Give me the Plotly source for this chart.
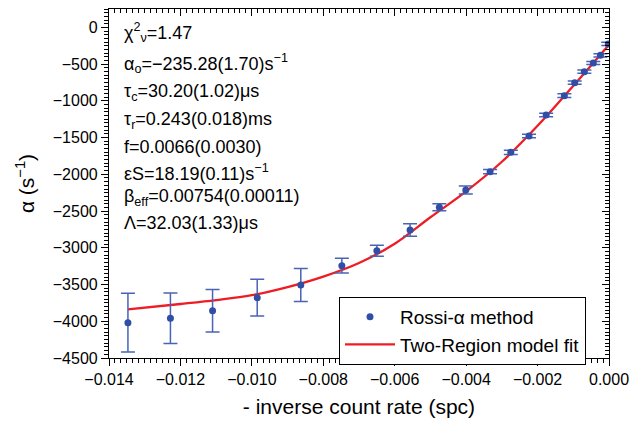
import plotly.graph_objects as go

# ---- data ----
inv_rate = [-0.01347, -0.01228, -0.0111, -0.00985, -0.00863, -0.00748, -0.0065, -0.00557,
            -0.00475, -0.00401, -0.00333, -0.00275, -0.00224, -0.00176, -0.00125, -0.00096,
            -0.00069, -0.00044, -0.00024, -0.00002]
alpha = [-4020, -3960, -3856, -3679, -3506, -3244, -3040, -2758, -2449, -2213, -1964,
         -1701, -1478, -1193, -930, -753, -603, -485, -380, -225]
alpha_err = [400, 343, 290, 250, 225, 100, 75, 84, 48, 54, 30, 30, 25, 25, 25, 22, 22, 22, 22, 22]

fit_x = [-0.01347, -0.012, -0.011, -0.010, -0.009, -0.008, -0.007, -0.006, -0.005,
         -0.004, -0.003, -0.002, -0.001, 0.0]
fit_y = [-3837, -3765, -3712, -3645, -3535, -3392, -3207, -2945, -2585,
         -2232, -1829, -1340, -795, -235]

x_ticks = [-0.014, -0.012, -0.010, -0.008, -0.006, -0.004, -0.002, 0.0]
x_ticklabels = ["\u22120.014", "\u22120.012", "\u22120.010", "\u22120.008", "\u22120.006",
                "\u22120.004", "\u22120.002", "0.000"]
y_ticks = [0, -500, -1000, -1500, -2000, -2500, -3000, -3500, -4000, -4500]
y_ticklabels = ["0", "\u2212500", "\u22121000", "\u22121500", "\u22122000", "\u22122500",
                "\u22123000", "\u22123500", "\u22124000", "\u22124500"]

fit_params = [
    "\u03c7<sup>2</sup><sub>\u03bd</sub>=1.47",
    "\u03b1<sub>o</sub>=\u2212235.28(1.70)s<sup>\u22121</sup>",
    "\u03c4<sub>c</sub>=30.20(1.02)\u03bcs",
    "\u03c4<sub>r</sub>=0.243(0.018)ms",
    "f=0.0066(0.0030)",
    "\u03b5S=18.19(0.11)s<sup>\u22121</sup>",
    "\u03b2<sub>eff</sub>=0.00754(0.00011)",
    "\u039b=32.03(1.33)\u03bcs",
]

FONT = "Liberation Sans, Arial, sans-serif"
W, H = 629, 423
ML, MR, MT, MB = 109, 20, 9, 65
XR = [-0.014, 0.0]
YR = [-4500, 250]

fig = go.Figure()
fig.add_trace(go.Scatter(
    x=fit_x, y=fit_y, mode="lines", line=dict(color="#ee1c24", width=2.3, shape="spline"),
    name="Two-Region model fit", legendrank=2, cliponaxis=False))
fig.add_trace(go.Scatter(
    x=inv_rate, y=alpha, mode="markers", name="Rossi-\u03b1 method",
    marker=dict(color="#2f4ea6", size=7),
    error_y=dict(type="data", array=alpha_err, visible=True, color="#4a63b6",
                 thickness=1.5, width=7),
    legendrank=1))
# dummy trace for mirrored inside-tick axes
fig.add_trace(go.Scatter(x=[], y=[], xaxis="x2", yaxis="y2", showlegend=False))

axis_font = dict(family=FONT, size=16, color="black")
common = dict(showgrid=False, zeroline=False, showline=True, linecolor="black",
              linewidth=1.2, tickcolor="black", tickwidth=1, ticklen=7, automargin=False)

fig.update_layout(
    width=W, height=H, margin=dict(l=ML, r=MR, t=MT, b=MB, autoexpand=False),
    plot_bgcolor="white", paper_bgcolor="white",
    font=dict(family=FONT, color="black"),
    xaxis=dict(range=XR, tickvals=x_ticks, ticktext=x_ticklabels, ticks="outside",
               tickfont=axis_font, ticklabeloverflow="allow",
               minor=dict(dtick=0.002 / 12, tick0=0, ticks="outside", ticklen=4,
                          tickcolor="black"),
               title=dict(text="- inverse count rate (spc)",
                          font=dict(family=FONT, size=21), standoff=12),
               **common),
    yaxis=dict(range=YR, tickvals=y_ticks, ticktext=y_ticklabels, ticks="outside",
               tickfont=axis_font, ticklabeloverflow="allow",
               minor=dict(dtick=50, tick0=0, ticks="outside", ticklen=4, tickcolor="black"),
               title=dict(text="\u03b1 (s<sup>\u22121</sup>)",
                          font=dict(family=FONT, size=21), standoff=12),
               **common),
    xaxis2=dict(range=XR, overlaying="x", side="top", tickvals=x_ticks, ticks="inside",
                showticklabels=False,
                minor=dict(dtick=0.002 / 12, tick0=0, ticks="inside", ticklen=4,
                           tickcolor="black"),
                **common),
    yaxis2=dict(range=YR, overlaying="y", side="right", tickvals=y_ticks, ticks="inside",
                showticklabels=False,
                minor=dict(dtick=50, tick0=0, ticks="inside", ticklen=4, tickcolor="black"),
                **common),
    legend=dict(x=0.46, y=0.175, xanchor="left", yanchor="top",
                bordercolor="black", borderwidth=1, bgcolor="white",
                font=dict(family=FONT, size=19), itemwidth=50,
                traceorder="normal"),
    showlegend=True,
)

line_centers = [33, 63, 93, 120, 147, 173, 197, 223]
for txt, yc in zip(fit_params, line_centers):
    fig.add_annotation(text=txt, xref="paper", yref="paper",
                       x=(122 - ML) / (W - ML - MR), y=(H - MB - yc) / (H - MB - MT),
                       xanchor="left", yanchor="middle", showarrow=False,
                       font=dict(family=FONT, size=18, color="black"))

fig.write_html("out.html", config={"displayModeBar": False},
               post_script="document.body.style.margin='0';document.body.style.overflow='hidden';")
